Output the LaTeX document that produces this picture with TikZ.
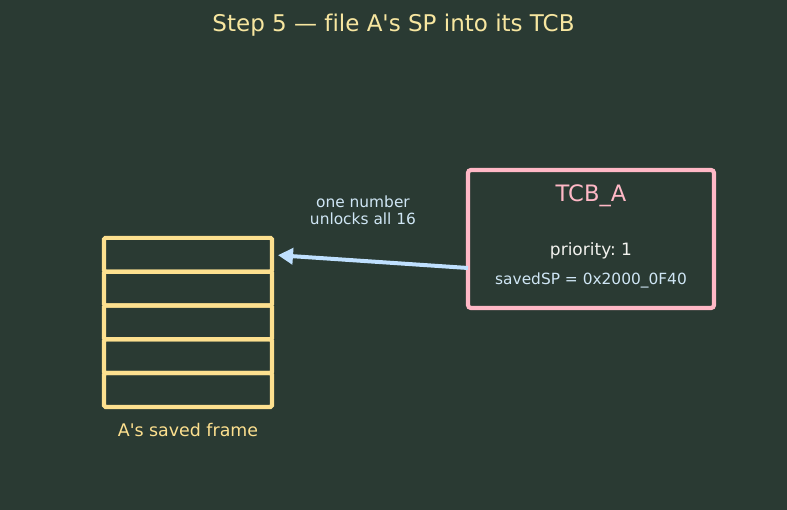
\documentclass[tikz,border=0pt]{standalone}
\usepackage{fontspec}
\setmainfont{DejaVu Sans}[Ligatures={NoCommon}]
\usetikzlibrary{arrows.meta}
\definecolor{bg}{HTML}{2A3A33}
\definecolor{ttl}{HTML}{F7E6A0}
\definecolor{frm}{HTML}{FDE08F}
\definecolor{pnk}{HTML}{FFB8C6}
\definecolor{lbl}{HTML}{CFE6F5}
\definecolor{arr}{HTML}{BFE0FF}
\definecolor{wht}{HTML}{F2F2EE}
\tikzset{
  rowbox/.style={draw=frm, line width=4.2pt, minimum width=168pt, minimum height=33.8pt, inner sep=0pt, outer sep=0pt, rounded corners=1.5pt},
  tcbbox/.style={draw=pnk, line width=4.2pt, minimum width=246pt, minimum height=138pt, inner sep=0pt, outer sep=0pt, rounded corners=3pt},
  txt/.style={inner sep=0pt, anchor=base},
  link/.style={draw=arr, line width=4pt, -{Triangle[length=15pt,width=16pt]}, shorten >=6pt}
}
\begin{document}
\frenchspacing
\begin{tikzpicture}[x=1pt,y=-1pt]
\fill[bg] (0,0) rectangle (787,510);
\useasboundingbox (0,0) rectangle (787,510);
\node[txt, text=ttl, font=\fontsize{23}{27}\selectfont] (title) at (393.5,32) {Step 5 — file A\textquotesingle s SP into its TCB};
\node[rowbox] (r1) at (188,254.8) {};
\node[rowbox] (r2) at (188,288.6) {};
\node[rowbox] (r3) at (188,322.4) {};
\node[rowbox] (r4) at (188,356.2) {};
\node[rowbox] (r5) at (188,390) {};
\node[txt, text=frm, font=\fontsize{17.4}{20}\selectfont] (flabel) at (188,436) {A\textquotesingle s saved frame};
\node[tcbbox] (tcb) at (591,239) {};
\node[txt, text=pnk, font=\fontsize{22.6}{26}\selectfont] (tname) at (591,202) {TCB\_A};
\node[txt, text=wht, font=\fontsize{17}{20}\selectfont] (prio) at (591,256) {priority: 1};
\node[txt, text=lbl, font=\fontsize{15.4}{18}\selectfont] (sp) at (591,285) {savedSP = 0x2000\_0F40};
\node[txt, text=lbl, font=\fontsize{15.4}{17}\selectfont, align=center] (note) at (363,225) {one number\\unlocks all 16};
\coordinate (astart) at (468,268);
\draw[link] (astart) -- (r1.east);
\end{tikzpicture}
\end{document}
